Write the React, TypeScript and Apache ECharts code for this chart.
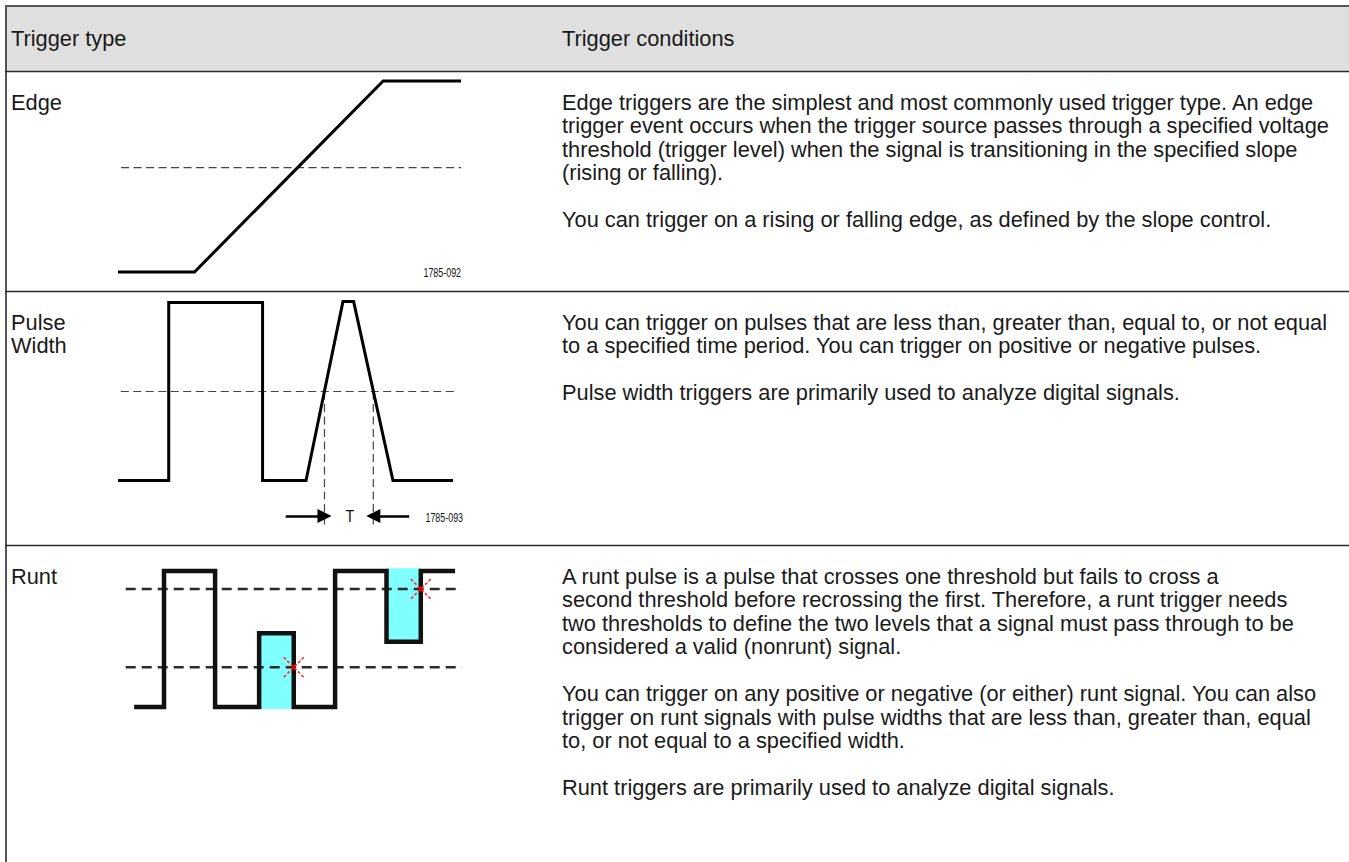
import React, { useEffect, useRef } from "react";
import * as echarts from "echarts";

// ---------- text content ----------
const headers = ["Trigger type", "Trigger conditions"];
const rowNames = [["Edge"], ["Pulse", "Width"], ["Runt"]];
const conditions = [
  [
    [
      "Edge triggers are the simplest and most commonly used trigger type. An edge",
      "trigger event occurs when the trigger source passes through a specified voltage",
      "threshold (trigger level) when the signal is transitioning in the specified slope",
      "(rising or falling).",
    ],
    ["You can trigger on a rising or falling edge, as defined by the slope control."],
  ],
  [
    [
      "You can trigger on pulses that are less than, greater than, equal to, or not equal",
      "to a specified time period. You can trigger on positive or negative pulses.",
    ],
    ["Pulse width triggers are primarily used to analyze digital signals."],
  ],
  [
    [
      "A runt pulse is a pulse that crosses one threshold but fails to cross a",
      "second threshold before recrossing the first. Therefore, a runt trigger needs",
      "two thresholds to define the two levels that a signal must pass through to be",
      "considered a valid (nonrunt) signal.",
    ],
    [
      "You can trigger on any positive or negative (or either) runt signal. You can also",
      "trigger on runt signals with pulse widths that are less than, greater than, equal",
      "to, or not equal to a specified width.",
    ],
    ["Runt triggers are primarily used to analyze digital signals."],
  ],
];
const figureLabels = ["1785-092", "1785-093"];
const periodLabel = "T";

// ---------- waveform data (time 0..100, level 0..1) ----------
const edgeSignal = [[0, 0], [22.3, 0], [77.3, 1], [100, 1]];
const edgeThreshold = [[0.9, 0.546], [100, 0.546]];
const edgeFigLabelAt = [100, 0];

const pulseSignal = [
  [0, 0], [14.7, 0], [14.7, 1], [41.9, 1], [41.9, 0], [54.5, 0],
  [65.2, 1.005], [68.3, 1.005], [79.7, 0], [97.1, 0],
];
const pulseThreshold = [[0.8, 0.5], [98.6, 0.5]];
const pulseCrossings = [59.85, 74.0];
const pulseMarkerBottom = -0.25;
const pulseArrows = [
  [[48.6, -0.2], [59.85, -0.2]],
  [[84.4, -0.2], [74.0, -0.2]],
];
const pulsePeriodLabelAt = [67.2, -0.2];
const pulseFigLabelAt = [100, -0.205];

const runtSignal = [
  [2.5, 0], [11.4, 0], [11.4, 1], [26.6, 1], [26.6, 0], [39.7, 0],
  [39.7, 0.542], [50, 0.542], [50, 0], [62.3, 0], [62.3, 1], [77.6, 1],
  [77.6, 0.48], [87.8, 0.48], [87.8, 1], [98, 1],
];
const runtThresholds = [0.868, 0.292];
const runtRegions = [
  [39.7, 50, -0.015, 0.542],
  [77.6, 87.8, 0.48, 1.02],
];
const runtCrosses = [[50, 0.292], [87.8, 0.868]];

const FAMILY = '"Liberation Sans", Arial, Helvetica, sans-serif';

export default function App() {
  const ref = useRef<HTMLDivElement>(null);

  useEffect(() => {
    if (!ref.current) return;
    const chart = echarts.init(ref.current, null, { renderer: "svg" });

    const W = 1349;
    const rowTops = [71, 291, 545];
    const lineH = 23.5;
    const textColor = "#1a1a1a";
    const fontMain = `21.8px ${FAMILY}`;

    const graphics: any[] = [];
    graphics.push({ type: "rect", shape: { x: 6, y: 7, width: W - 6, height: 64 }, style: { fill: "#dfdfdf" }, silent: true });
    graphics.push({ type: "line", shape: { x1: 5, y1: 6, x2: W, y2: 6 }, style: { stroke: "#555", lineWidth: 2 }, silent: true });
    graphics.push({ type: "line", shape: { x1: 6, y1: 5, x2: 6, y2: 862 }, style: { stroke: "#555", lineWidth: 2 }, silent: true });
    rowTops.forEach((y) => {
      graphics.push({ type: "line", shape: { x1: 5, y1: y + 0.5, x2: W, y2: y + 0.5 }, style: { stroke: "#2a2a2a", lineWidth: 1.6 }, silent: true });
    });
    headers.forEach((h, i) => {
      graphics.push({
        type: "text", x: i === 0 ? 11 : 562, y: 38, silent: true,
        style: { text: h, font: fontMain, fill: textColor, verticalAlign: "middle" },
      });
    });
    rowNames.forEach((names, r) => {
      const top = rowTops[r] + 31;
      names.forEach((n, k) => {
        graphics.push({
          type: "text", x: 11, y: top + k * lineH, silent: true,
          style: { text: n, font: fontMain, fill: textColor, verticalAlign: "middle" },
        });
      });
      let y = top;
      conditions[r].forEach((para) => {
        para.forEach((line) => {
          graphics.push({
            type: "text", x: 562, y, silent: true,
            style: { text: line, font: fontMain, fill: textColor, verticalAlign: "middle" },
          });
          y += lineH;
        });
        y += lineH;
      });
    });

    const hidden = { show: false };
    const dashThin = { color: "#444", width: 1.2, type: [8, 4.5] as any };

    // annotation text drawn at data coordinates
    const textSeries = (axis: number, items: any[]) => ({
      type: "custom", xAxisIndex: axis, yAxisIndex: axis, silent: true, clip: false, z: 5,
      data: items.map((it) => [it.at[0], it.at[1]]),
      renderItem: (params: any, api: any) => {
        const it = items[params.dataIndex];
        const c = api.coord([api.value(0), api.value(1)]);
        return {
          type: "text", x: c[0], y: c[1], scaleX: it.scaleX, scaleY: 1,
          style: {
            text: it.text, fontSize: it.size, fontFamily: FAMILY, fill: "#111",
            align: it.align, verticalAlign: "middle",
          },
        };
      },
    });

    const option: any = {
      animation: false,
      grid: [
        { left: 118, top: 81, width: 343, height: 191 },
        { left: 118, top: 302.5, width: 345, height: 231.4 },
        { left: 125.7, top: 571, width: 336.1, height: 136 },
      ],
      xAxis: [0, 1, 2].map((g) => ({ type: "value", gridIndex: g, min: 0, max: 100, ...hidden })),
      yAxis: [
        { type: "value", gridIndex: 0, min: 0, max: 1, ...hidden },
        { type: "value", gridIndex: 1, min: -0.3, max: 1, ...hidden },
        { type: "value", gridIndex: 2, min: 0, max: 1, ...hidden },
      ],
      graphic: { elements: graphics },
      series: [
        // ---- Edge ----
        {
          type: "line", xAxisIndex: 0, yAxisIndex: 0, data: edgeThreshold, showSymbol: false, silent: true, clip: false,
          lineStyle: dashThin, z: 2,
        },
        {
          type: "line", xAxisIndex: 0, yAxisIndex: 0, data: edgeSignal, showSymbol: false, silent: true, clip: false,
          lineStyle: { color: "#000", width: 3, join: "miter", cap: "butt" }, z: 3,
        },
        textSeries(0, [
          { at: edgeFigLabelAt, text: figureLabels[0], size: 12, align: "right", scaleX: 0.74 },
        ]),
        // ---- Pulse width ----
        {
          type: "line", xAxisIndex: 1, yAxisIndex: 1, data: pulseThreshold, showSymbol: false, silent: true, clip: false,
          lineStyle: dashThin, z: 2,
        },
        ...pulseCrossings.map((x) => ({
          type: "line", xAxisIndex: 1, yAxisIndex: 1, data: [[x, 0.5], [x, pulseMarkerBottom]], showSymbol: false, silent: true, clip: false,
          lineStyle: dashThin, z: 2,
        })),
        {
          type: "line", xAxisIndex: 1, yAxisIndex: 1, data: pulseSignal, showSymbol: false, silent: true, clip: false,
          lineStyle: { color: "#000", width: 3, join: "miter", cap: "butt" }, z: 3,
        },
        {
          type: "lines", coordinateSystem: "cartesian2d", xAxisIndex: 1, yAxisIndex: 1, silent: true,
          data: pulseArrows.map((c) => ({ coords: c })),
          symbol: ["none", "triangle"], symbolSize: [9, 14],
          lineStyle: { color: "#000", width: 2.5, opacity: 1 },
          itemStyle: { color: "#000" },
          z: 3,
        },
        textSeries(1, [
          { at: pulsePeriodLabelAt, text: periodLabel, size: 16, align: "center", scaleX: 0.9 },
          { at: pulseFigLabelAt, text: figureLabels[1], size: 12, align: "right", scaleX: 0.74 },
        ]),
        // ---- Runt ----
        {
          type: "custom", xAxisIndex: 2, yAxisIndex: 2, silent: true, clip: false, z: 1,
          data: runtRegions,
          encode: { x: [0, 1], y: [2, 3] },
          renderItem: (params: any, api: any) => {
            const p1 = api.coord([api.value(0), api.value(3)]);
            const p2 = api.coord([api.value(1), api.value(2)]);
            return {
              type: "rect",
              shape: { x: p1[0], y: p1[1], width: p2[0] - p1[0], height: p2[1] - p1[1] },
              style: { fill: "#80ffff" },
            };
          },
        },
        ...runtThresholds.map((v) => ({
          type: "line", xAxisIndex: 2, yAxisIndex: 2, data: [[0, v], [100, v]], showSymbol: false, silent: true, clip: false,
          lineStyle: { color: "#2a2a2a", width: 2.5, type: [10, 6] }, z: 2,
        })),
        {
          type: "line", xAxisIndex: 2, yAxisIndex: 2, data: runtSignal, showSymbol: false, silent: true, clip: false,
          lineStyle: { color: "#111", width: 4.5, join: "miter", cap: "butt" }, z: 3,
        },
        {
          type: "custom", xAxisIndex: 2, yAxisIndex: 2, silent: true, clip: false, z: 4,
          data: runtCrosses,
          renderItem: (params: any, api: any) => {
            const c = api.coord([api.value(0), api.value(1)]);
            const r = 10;
            const st = { stroke: "#ff2a2a", lineWidth: 1.6, lineDash: [3, 2] };
            return {
              type: "group",
              children: [
                { type: "line", shape: { x1: c[0] - r, y1: c[1] - r, x2: c[0] + r, y2: c[1] + r }, style: st },
                { type: "line", shape: { x1: c[0] + r, y1: c[1] - r, x2: c[0] - r, y2: c[1] + r }, style: st },
                { type: "circle", shape: { cx: c[0], cy: c[1], r: 2.2 }, style: { fill: "#e00000" } },
              ],
            };
          },
        },
      ],
    };

    chart.setOption(option);
    return () => chart.dispose();
  }, []);

  return (
    <div
      ref={ref}
      style={{ position: "absolute", left: 0, top: 0, width: 1349, height: 862, background: "#fff" }}
    />
  );
}
